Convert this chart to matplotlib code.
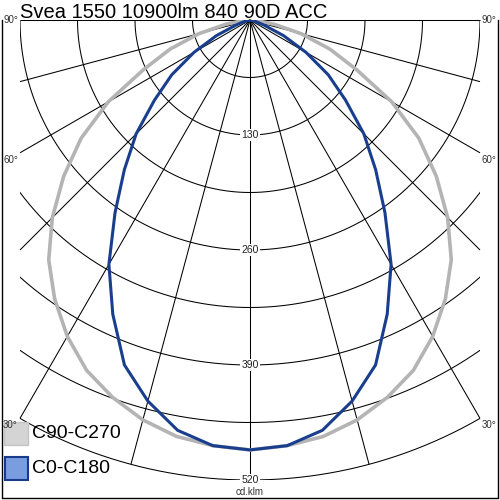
import matplotlib
matplotlib.use('Agg')
import matplotlib.pyplot as plt
import numpy as np
from matplotlib.patches import Rectangle

plt.rcParams['font.family'] = ['Liberation Sans', 'DejaVu Sans']

# ---- data (cd/klm) ----
title = "Svea 1550 10900lm 840 90D ACC"
angles = [0, 5, 10, 15, 20, 25, 30, 35, 40, 45, 50, 55, 60, 65, 70, 75, 80, 85, 90]
c0_c180 = [486, 483, 471, 446, 415, 367, 319, 266, 221, 182, 141, 108, 73, 42, 17, 7, 3, 1, 0]
c90_c270 = [486, 483, 478, 468, 454, 437, 413, 385, 354, 316, 275, 233, 185, 133, 96, 60, 28, 8, 0]
ring_values = [65, 130, 195, 260, 325, 390, 455, 520]
ring_labels = [130, 260, 390, 520]
radial_angles = [-90, -75, -60, -45, -30, -15, 0, 15, 30, 45, 60, 75, 90]
angle_labels = ["90°", "60°", "30°"]
legend_names = ["C90-C270", "C0-C180"]
unit = "cd.klm"

RMAX = 520
XMAX = 260

fig = plt.figure(figsize=(5, 5), dpi=100)
ax = fig.add_axes([0.04, 0.04, 0.92, 0.92])
ax.set_xlim(-XMAX, XMAX)
ax.set_ylim(-RMAX, 0)
ax.axis('off')

# rings
th = np.radians(np.linspace(-90, 90, 1441))
for r in ring_values:
    ax.plot(r * np.sin(th), -r * np.cos(th), color='black', lw=0.75, zorder=1)

# radial lines
for a in radial_angles:
    ar = np.radians(a)
    s = abs(np.sin(ar))
    rend = RMAX if s < 1e-9 else min(RMAX, XMAX / s)
    ax.plot([0, rend * np.sin(ar)], [0, -rend * np.cos(ar)], color='black',
            lw=0.75, zorder=1, clip_on=False, solid_capstyle='butt')

# curves (symmetric halves)
def full(vals):
    a = np.radians(np.array([-x for x in angles[::-1]] + angles[1:], dtype=float))
    r = np.array(vals[::-1] + vals[1:], dtype=float)
    return r * np.sin(a), -r * np.cos(a)

x, y = full(c90_c270)
ax.plot(x, y, color='#b4b4b4', lw=2.6, zorder=3, solid_joinstyle='miter')
x, y = full(c0_c180)
ax.plot(x, y, color='#1a3e8e', lw=2.2, zorder=4, solid_joinstyle='miter')

# ring labels
for v in ring_labels:
    ax.text(0, -v, str(v), ha='center', va='center', fontsize=7.5, color='#222222',
            zorder=5, bbox=dict(facecolor='white', edgecolor='none', pad=0.6))

# overlay in pixel coordinates
ov = fig.add_axes([0, 0, 1, 1], zorder=10)
ov.set_xlim(0, 500)
ov.set_ylim(500, 0)
ov.axis('off')

ov.plot([1.5, 1.5, 497.5, 497.5], [20, 497.5, 497.5, 20], color='black', lw=1)
ov.text(20, 17.5, title, fontsize=14.5, ha='left', va='baseline', color='black')

for lab, yy in zip(angle_labels, [20, 160, 425]):
    ov.text(3, yy, lab, fontsize=7, ha='left', va='center', color='#333333')
    ov.text(482, yy, lab, fontsize=7, ha='left', va='center', color='#333333')

ov.text(250, 492, unit, fontsize=7, ha='center', va='center', color='#333333')

ov.add_patch(Rectangle((4, 422), 24, 23, facecolor='#d4d4d4', edgecolor='#c4c4c4', lw=1))
ov.text(32, 434, legend_names[0], fontsize=14, ha='left', va='center', color='black')
ov.add_patch(Rectangle((4.5, 457), 23, 23, facecolor='#7a9de0', edgecolor='#183a8a', lw=1.5))
ov.text(32, 468.5, legend_names[1], fontsize=14, ha='left', va='center', color='black')

fig.savefig('out.png', dpi=100)
